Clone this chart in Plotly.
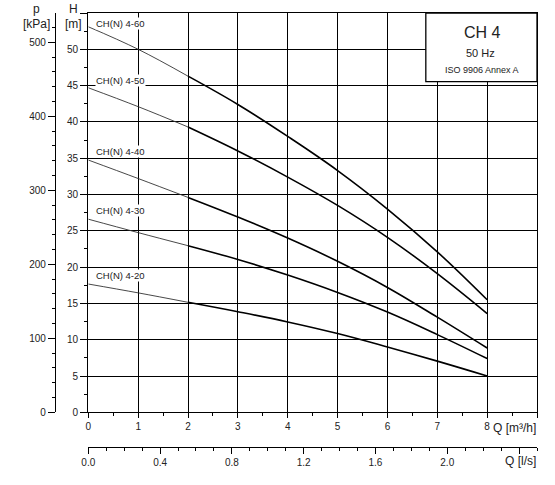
import plotly.graph_objects as go

# --- data ---------------------------------------------------------------
Q_M3H = [0, 1, 2, 3, 4, 5, 6, 7, 8]
PUMPS = ["CH(N) 4-60", "CH(N) 4-50", "CH(N) 4-40", "CH(N) 4-30", "CH(N) 4-20"]
H_4_60 = [53.1, 50.0, 46.3, 42.4, 38.0, 33.3, 28.0, 22.1, 15.5]
H_4_50 = [44.7, 42.1, 39.3, 36.0, 32.4, 28.5, 24.1, 19.1, 13.6]
H_4_40 = [34.75, 32.2, 29.6, 26.9, 24.0, 20.8, 17.2, 13.1, 8.85]
H_4_30 = [26.6, 24.75, 22.95, 21.05, 18.9, 16.5, 13.8, 10.7, 7.4]
H_4_20 = [17.67, 16.45, 15.15, 13.85, 12.45, 10.85, 9.0, 7.05, 5.0]
LABEL_H = [53.6, 45.7, 35.9, 27.8, 18.8]

H_TICKS = [0, 5, 10, 15, 20, 25, 30, 35, 40, 45, 50, 55]
Q_TICKS = [0, 1, 2, 3, 4, 5, 6, 7, 8, 9]
P_TICKS = [0, 100, 200, 300, 400, 500]
QLS_TICKS = [0.0, 0.4, 0.8, 1.2, 1.6, 2.0, 2.4]

W, HGT = 555, 485
ML, MR, MT, MB = 30, 18, 13, 30
FONT = "Liberation Sans, Arial, sans-serif"
INK = "#222"


def px(x, y):
    # pixel position -> paper coords
    return (x - ML) / (W - ML - MR), (HGT - MB - y) / (HGT - MT - MB)


fig = go.Figure()
curves = [H_4_60, H_4_50, H_4_40, H_4_30, H_4_20]
for name, h in zip(PUMPS, curves):
    # thin part outside recommended range, thick part inside
    fig.add_trace(go.Scatter(x=Q_M3H[:3], y=h[:3], mode="lines",
                             line=dict(color="#333", width=0.9, shape="spline", smoothing=1.1),
                             name=name, showlegend=False))
    fig.add_trace(go.Scatter(x=Q_M3H[2:], y=h[2:], mode="lines",
                             line=dict(color="black", width=1.6, shape="spline", smoothing=1.1),
                             name=name, showlegend=False))

# dummy trace so the secondary axes render
fig.add_trace(go.Scatter(x=[None], y=[None], xaxis="x2", yaxis="y2", showlegend=False, hoverinfo="skip"))

x0d = px(88.3, 0)[0]
y0d = px(0, 412.3)[1]
tickfont = dict(family=FONT, size=10, color=INK)

fig.update_layout(
    width=W, height=HGT, margin=dict(l=ML, r=MR, t=MT, b=MB),
    paper_bgcolor="white", plot_bgcolor="white", font=dict(family=FONT, color=INK),
    xaxis=dict(domain=[x0d, 1], range=[0, 9], tickmode="array", tickvals=Q_TICKS,
               ticktext=[str(v) for v in Q_TICKS[:-1]] + [""],
               showgrid=True, gridcolor="black", gridwidth=1.3, zeroline=False,
               showline=True, linecolor="black", linewidth=1.3, mirror=True,
               ticks="outside", ticklen=5, tickcolor="black", tickfont=tickfont,
               minor=dict(dtick=0.5, tick0=0, ticks="outside", ticklen=3, tickcolor="black", showgrid=False)),
    yaxis=dict(domain=[y0d, 1], range=[0, 55], tickmode="array", tickvals=H_TICKS,
               ticktext=[str(v) for v in H_TICKS[:-1]] + [""],
               showgrid=True, gridcolor="black", gridwidth=1.3, zeroline=False,
               showline=True, linecolor="black", linewidth=1.3, mirror=True,
               ticks="outside", ticklen=7, tickcolor="black", tickfont=tickfont,
               minor=dict(dtick=2.5, tick0=0, ticks="outside", ticklen=3, tickcolor="black", showgrid=False)),
    xaxis2=dict(overlaying="x", anchor="free", position=px(0, 446.7)[1], side="bottom",
                range=[0, 2.5], tickmode="array", tickvals=QLS_TICKS,
                ticktext=[f"{v:.1f}" for v in QLS_TICKS[:-1]] + [""],
                showgrid=False, zeroline=False, showline=True, linecolor="black", linewidth=1.3,
                ticks="outside", ticklen=6, tickcolor="black", tickfont=tickfont,
                minor=dict(dtick=0.1, tick0=0, ticks="outside", ticklen=3, tickcolor="black")),
    yaxis2=dict(overlaying="y", anchor="free", position=px(55, 0)[0], side="left",
                range=[0, 55 * 9.81], tickmode="array", tickvals=P_TICKS,
                showgrid=False, zeroline=False, showline=True, linecolor="black", linewidth=1.3,
                ticks="outside", ticklen=7, tickcolor="black", tickfont=tickfont,
                minor=dict(dtick=20, tick0=0, ticks="outside", ticklen=3, tickcolor="black")),
)

# info box top right
fig.add_shape(type="rect", xref="x", yref="y", x0=6.77, x1=9, y0=45.55, y1=55,
              fillcolor="white", line=dict(color="black", width=1.3), layer="above")

ann = []
for name, yl in zip(PUMPS, LABEL_H):
    ann.append(dict(x=0.14, y=yl, xref="x", yref="y", text=name, showarrow=False, xanchor="left",
                    yanchor="middle", bgcolor="white", borderpad=0, font=dict(size=9.5, color=INK)))

for text, x, y, size in [("p", 36.5, 9, 12), ("[kPa]", 36.5, 24, 12), ("H", 73, 9, 12), ("[m]", 73, 24, 12),
                         ("CH 4", 482.7, 33, 16), ("50 Hz", 480.5, 53, 11), ("ISO 9906 Annex A", 482, 70, 9)]:
    xp, yp = px(x, y)
    ann.append(dict(x=xp, y=yp, xref="paper", yref="paper", text=text, showarrow=False,
                    xanchor="center", yanchor="middle", font=dict(size=size, color=INK)))

for text, y in [("Q [m³/h]", 428), ("Q [l/s]", 461)]:
    xp, yp = px(538, y)
    ann.append(dict(x=xp, y=yp, xref="paper", yref="paper", text=text, showarrow=False,
                    xanchor="right", yanchor="middle", font=dict(size=12, color=INK)))

fig.update_layout(annotations=ann)
# the page body has a default 8px margin; drop it so the figure sits at (0, 0)
fig.write_html("out.html", config={"displayModeBar": False},
               post_script="document.body.style.margin='0px';")
